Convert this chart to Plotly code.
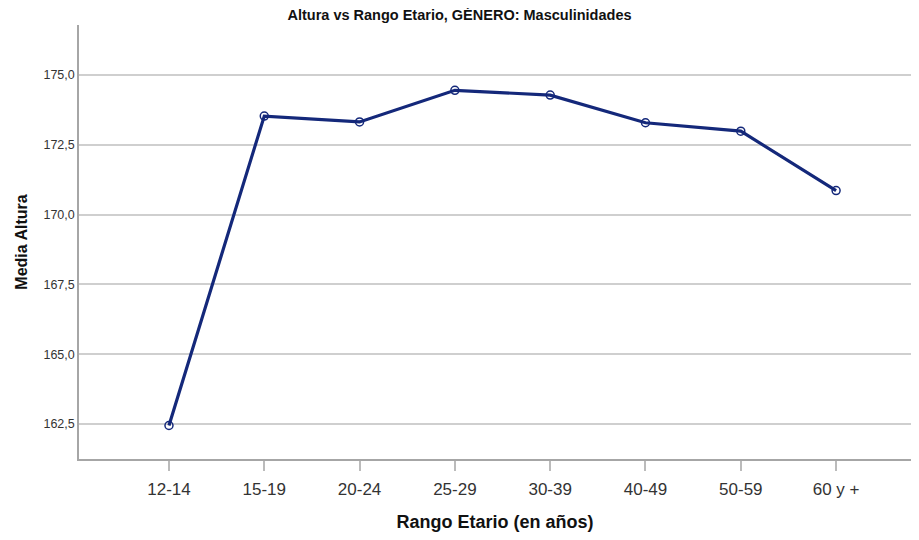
import plotly.graph_objects as go

rangos = ["12-14", "15-19", "20-24", "25-29", "30-39", "40-49", "50-59", "60 y +"]
media_altura = [162.45, 173.53, 173.32, 174.45, 174.28, 173.29, 172.99, 170.86]
y_ticks = [162.5, 165.0, 167.5, 170.0, 172.5, 175.0]

fig = go.Figure()

fig.add_trace(go.Scatter(
    x=rangos,
    y=media_altura,
    mode="lines+markers",
    line=dict(color="#14287a", width=3.2),
    marker=dict(symbol="circle-open", size=8, color="#14287a", line=dict(width=1.5)),
    showlegend=False
))

# the page body has an 8px margin, so the figure is a bit smaller than the window
fig.update_layout(
    width=903,
    height=524,
    separators=",.",
    paper_bgcolor="white",
    plot_bgcolor="white",
    margin=dict(l=71, r=0, t=17, b=73),
    title=dict(
        text="<b>Altura vs Rango Etario, GÉNERO: Masculinidades</b>",
        x=0.5, xanchor="center", y=0.987, yanchor="middle",
        font=dict(family="Liberation Sans Narrow, Arial Narrow, sans-serif", size=14.5, color="#111")
    ),
    font=dict(family="Liberation Sans, Arial, sans-serif", color="#333")
)

fig.update_xaxes(
    type="category",
    range=[-0.944, 7.786],
    showline=True, linecolor="#a6a6a6", linewidth=1.5,
    ticks="outside", ticklen=10, tickcolor="#bbbbbb", tickwidth=1.5,
    ticklabelstandoff=4,
    showgrid=False, zeroline=False,
    tickfont=dict(size=17, color="#333"),
    title=dict(text="<b>Rango Etario (en años)</b>", font=dict(size=18, color="#111"), standoff=18)
)

fig.update_yaxes(
    range=[161.25, 176.79],
    tickvals=y_ticks,
    tickformat=".1f",
    showline=True, linecolor="#a6a6a6", linewidth=1.5,
    showgrid=True, gridcolor="#cfcfcf", gridwidth=1.5,
    ticks="", zeroline=False,
    tickfont=dict(size=12.5, color="#333"),
    title=dict(text="<b>Media Altura</b>", font=dict(size=16, color="#111"), standoff=12)
)

fig.write_html("out.html")
